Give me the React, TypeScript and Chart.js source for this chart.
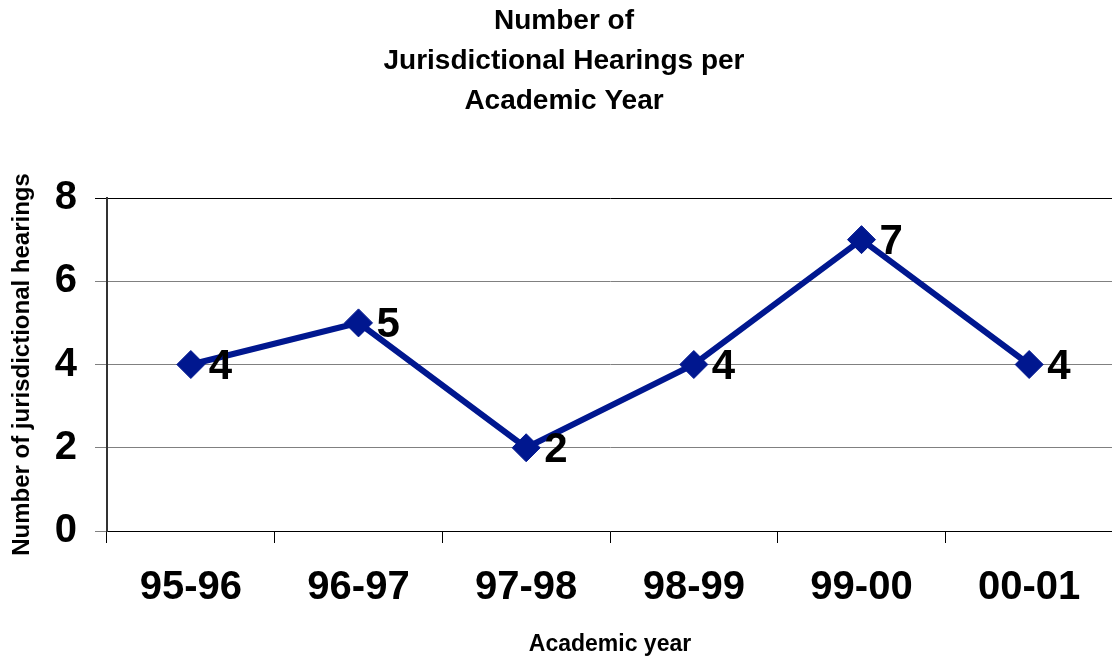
import React, { useEffect, useRef } from "react";
import { Chart, registerables } from "chart.js";

Chart.register(...registerables);

const categories: string[] = ["95-96", "96-97", "97-98", "98-99", "99-00", "00-01"];
const hearings: number[] = [4, 5, 2, 4, 7, 4];
const titleLines: string[] = ["Number of", "Jurisdictional Hearings per", "Academic Year"];
const yAxisTitle = "Number of jurisdictional hearings";
const xAxisTitle = "Academic year";

const FONT = "'Liberation Sans', Arial, Helvetica, sans-serif";
const LINE_COLOR = "#00178F";

const dataLabelPlugin = {
  id: "pointValueLabels",
  afterDatasetsDraw(chart: any) {
    const ctx = chart.ctx;
    const meta = chart.getDatasetMeta(0);
    const values = chart.data.datasets[0].data as number[];
    ctx.save();
    ctx.font = `bold 42px ${FONT}`;
    ctx.fillStyle = "#000";
    ctx.textAlign = "left";
    ctx.textBaseline = "middle";
    meta.data.forEach((pt: any, i: number) => {
      ctx.fillText(String(values[i]), pt.x + 18, pt.y + 3);
    });
    ctx.restore();
  },
};

export default function App() {
  const canvasRef = useRef<HTMLCanvasElement | null>(null);

  useEffect(() => {
    if (!canvasRef.current) return;
    const chart = new Chart(canvasRef.current, {
      type: "line",
      data: {
        labels: categories,
        datasets: [
          {
            data: hearings,
            borderColor: LINE_COLOR,
            backgroundColor: LINE_COLOR,
            borderWidth: 6,
            pointStyle: "rectRot",
            pointRadius: 14,
            pointBackgroundColor: LINE_COLOR,
            pointBorderColor: LINE_COLOR,
            pointBorderWidth: 1,
            tension: 0,
            fill: false,
          },
        ],
      },
      options: {
        responsive: false,
        animation: false,
        layout: { padding: { top: 0, left: 0, right: 0, bottom: 0 } },
        plugins: {
          legend: { display: false },
          tooltip: { enabled: false },
          title: {
            display: true,
            text: titleLines,
            color: "#000",
            font: { family: FONT, size: 28, weight: "bold", lineHeight: 40 / 28 },
            padding: { top: 1, bottom: 77 },
          },
        },
        scales: {
          x: {
            type: "category",
            offset: true,
            afterFit: (s: any) => {
              s.height = 130;
            },
            grid: {
              offset: true,
              drawOnChartArea: false,
              drawTicks: true,
              tickLength: 12,
              color: "#000",
              tickColor: "#000",
            },
            border: { display: true, color: "#000", width: 1 },
            ticks: {
              color: "#000",
              font: { family: FONT, size: 40, weight: "bold" },
              padding: 21,
              maxRotation: 0,
              autoSkip: false,
            },
            title: {
              display: true,
              text: xAxisTitle,
              color: "#000",
              font: { family: FONT, size: 23, weight: "bold" },
              padding: { top: 4, bottom: 3 },
            },
          },
          y: {
            min: 0,
            max: 8,
            afterFit: (s: any) => {
              s.width = 107;
            },
            grid: {
              drawTicks: true,
              tickLength: 12,
              color: (c: any) => (c.tick && c.tick.value === 8 ? "#000" : "#808080"),
              tickColor: (c: any) => (c.tick && c.tick.value === 8 ? "#000" : "#808080"),
              lineWidth: 1,
            },
            border: { display: true, color: "#333", width: 2 },
            ticks: {
              stepSize: 2,
              color: "#000",
              font: { family: FONT, size: 40, weight: "bold" },
              padding: 18,
            },
            title: {
              display: true,
              text: yAxisTitle,
              color: "#000",
              font: { family: FONT, size: 24, weight: "bold" },
              padding: { top: 8, bottom: 4 },
            },
          },
        },
      },
      plugins: [dataLabelPlugin],
    });
    return () => chart.destroy();
  }, []);

  return (
    <div
      style={{
        position: "absolute",
        left: 0,
        top: 0,
        width: 1112,
        height: 661,
        overflow: "hidden",
        background: "#fff",
      }}
    >
      <canvas ref={canvasRef} width={1128} height={661} style={{ display: "block" }} />
    </div>
  );
}
